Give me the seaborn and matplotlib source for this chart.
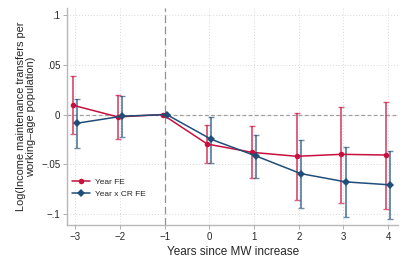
import numpy as np
import pandas as pd
import matplotlib
matplotlib.use("Agg")
import matplotlib.pyplot as plt
import seaborn as sns

years = [-3, -2, -1, 0, 1, 2, 3, 4]

fe_est = [0.0093, -0.0024, 0.0, -0.0297, -0.038, -0.042, -0.040, -0.0407]
fe_lo = [-0.0197, -0.025, 0.0, -0.049, -0.064, -0.0864, -0.0887, -0.0954]
fe_hi = [0.0386, 0.0196, 0.0, -0.0107, -0.012, 0.002, 0.008, 0.013]

cr_est = [-0.0087, -0.0017, 0.0, -0.025, -0.0417, -0.0594, -0.0677, -0.0707]
cr_lo = [-0.0334, -0.023, 0.0, -0.0484, -0.0637, -0.0937, -0.103, -0.1054]
cr_hi = [0.016, 0.019, 0.0, -0.0024, -0.0207, -0.026, -0.0324, -0.0364]

yticks = [-0.1, -0.05, 0, 0.05, 0.1]
ytick_labels = ["\u2212.1", "\u2212.05", "0", ".05", ".1"]
xtick_labels = ["\u22123", "\u22122", "\u22121", "0", "1", "2", "3", "4"]

red = "#c8103e"
blue = "#1f4e79"

sns.set_style("white")
plt.rcParams["font.family"] = ["Liberation Sans", "DejaVu Sans"]

df = pd.DataFrame({
    "year": np.array(years * 2, dtype=float),
    "est": fe_est + cr_est,
    "lo": fe_lo + cr_lo,
    "hi": fe_hi + cr_hi,
    "model": ["Year FE"] * len(years) + ["Year x CR FE"] * len(years),
})
offsets = {"Year FE": -0.045, "Year x CR FE": 0.045}
df["xpos"] = df["year"] + df["model"].map(offsets)

fig = plt.figure(figsize=(4.07, 2.71), dpi=100)
ax = fig.add_axes([0.165, 0.17, 0.813, 0.80])

for yt in yticks:
    ax.axhline(yt, color="#d8d8d8", lw=0.7, ls=(0, (1, 2)), zorder=0)
for xt in years:
    ax.axvline(xt, color="#d8d8d8", lw=0.7, ls=(0, (1, 2)), zorder=0)
ax.axhline(0, color="#a0a0a0", lw=0.9, ls=(0, (3, 2)), zorder=1)
ax.axvline(-1, color="#909090", lw=0.9, ls=(0, (6, 3)), zorder=1)

styles = {"Year FE": red, "Year x CR FE": blue}
for name, sub in df.groupby("model", sort=False):
    c = styles[name]
    ax.errorbar(sub["xpos"], sub["est"],
                yerr=[sub["est"] - sub["lo"], sub["hi"] - sub["est"]],
                fmt="none", ecolor=c, alpha=0.65, elinewidth=1.4,
                capsize=2, capthick=1, zorder=2)

sns.lineplot(data=df, x="xpos", y="est", hue="model", style="model",
             palette={"Year FE": red, "Year x CR FE": blue},
             markers={"Year FE": "o", "Year x CR FE": "D"}, dashes=False,
             markersize=4, markeredgewidth=0, linewidth=1.1,
             sort=False, ax=ax, zorder=3)

ax.set_xlim(-3.18, 4.22)
ax.set_ylim(-0.111, 0.107)
ax.set_xticks(years)
ax.set_xticklabels(xtick_labels)
ax.set_yticks(yticks)
ax.set_yticklabels(ytick_labels)
ax.tick_params(axis="both", labelsize=7, length=3, width=0.6, color="#a0a0a0",
               direction="out", pad=2, left=True, bottom=True)
ax.set_xlabel("Years since MW increase", fontsize=8.5, labelpad=3)
ax.set_ylabel("Log(Income maintenance transfers per\nworking\u2013age population)",
              fontsize=7.9, labelpad=4, linespacing=1.0)

for s in ["top", "right"]:
    ax.spines[s].set_visible(False)
for s in ["left", "bottom"]:
    ax.spines[s].set_color("#b8b8b8")
    ax.spines[s].set_linewidth(1.0)

leg = ax.legend(loc="lower left", frameon=False, fontsize=6, handlelength=2.2,
                bbox_to_anchor=(0.0, 0.1), borderaxespad=0.2, labelspacing=0.55,
                handletextpad=0.6)

fig.savefig("out.png", dpi=100)
